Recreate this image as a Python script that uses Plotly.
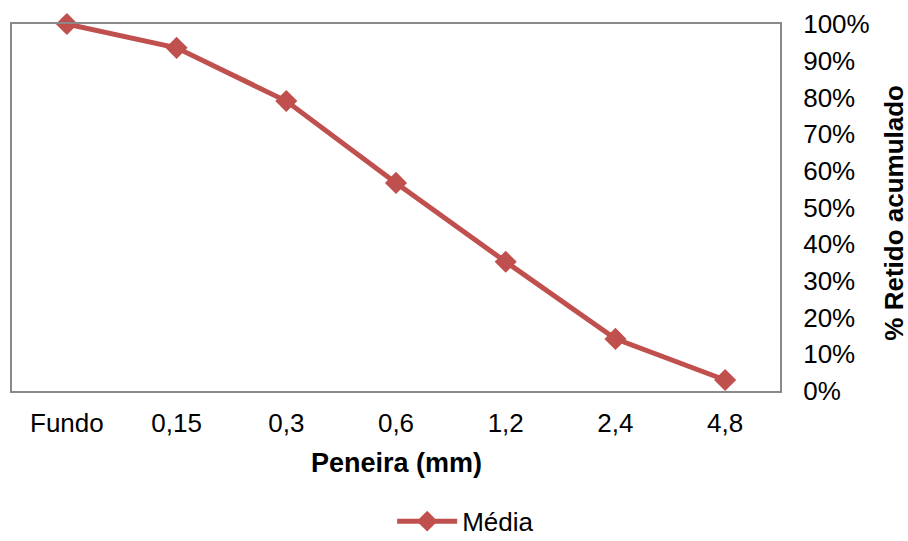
import plotly.graph_objects as go

# Sieve openings (mm) and mean cumulative retained fraction
peneiras = ["Fundo", "0,15", "0,3", "0,6", "1,2", "2,4", "4,8"]
retido_medio = [1.00, 0.935, 0.79, 0.567, 0.352, 0.142, 0.03]
serie_nome = "Média"

cor = "#C0504D"
fonte = "Liberation Sans, Arial, sans-serif"

fig = go.Figure()
fig.add_trace(go.Scatter(
    x=peneiras, y=retido_medio, name=serie_nome,
    mode="lines+markers",
    line=dict(color=cor, width=5),
    marker=dict(symbol="diamond", size=17, color=cor),
    cliponaxis=False,
))

fig.update_layout(
    width=908, height=541,
    margin=dict(l=12, r=128, t=24, b=150, autoexpand=False),
    plot_bgcolor="white", paper_bgcolor="white",
    font=dict(family=fonte, size=26, color="black"),
    showlegend=True,
    legend=dict(orientation="h", x=0.495, xanchor="left", y=-0.355, yanchor="middle",
                font=dict(size=26), itemwidth=60, bgcolor="rgba(0,0,0,0)"),
    xaxis=dict(
        type="category", range=[-0.5, 6.5],
        showline=True, mirror=True, linecolor="#898989", linewidth=2,
        showgrid=False, ticks="", ticklabelstandoff=8,
    ),
    yaxis=dict(
        side="right", range=[0, 1], dtick=0.1, tickformat=".0%",
        showline=True, mirror=True, linecolor="#898989", linewidth=2,
        showgrid=False, zeroline=False, ticks="", ticklabelstandoff=16,
    ),
    annotations=[
        dict(text="<b>Peneira (mm)</b>", x=0.5, y=-0.195, xref="paper", yref="paper",
             xanchor="center", yanchor="middle", showarrow=False, font=dict(size=27)),
        dict(text="<b>% Retido acumulado</b>", x=1.149, y=0.487, xref="paper", yref="paper",
             xanchor="center", yanchor="middle", textangle=-90, showarrow=False,
             font=dict(size=26)),
    ],
)

fig.write_html("out.html")
